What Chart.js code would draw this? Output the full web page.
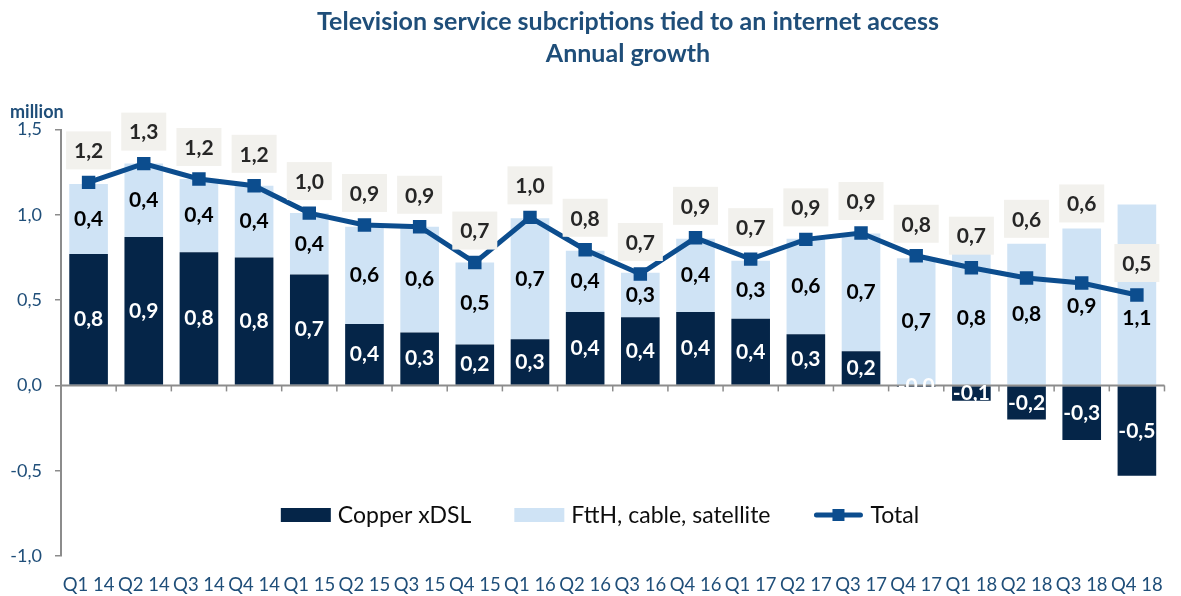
<!DOCTYPE html>
<html>
<head>
<meta charset="utf-8">
<script src="https://cdn.jsdelivr.net/npm/chart.js@4.4.1/dist/chart.umd.min.js"></script>
<style>
html,body{margin:0;padding:0;background:#fff;}
</style>
</head>
<body>
<canvas id="chartTv" width="1181" height="596"></canvas>
<script>
// =======================================
// DATA (million, annual growth)
// =======================================

let quarters=["Q1 14","Q2 14","Q3 14","Q4 14","Q1 15","Q2 15","Q3 15","Q4 15",
"Q1 16","Q2 16","Q3 16","Q4 16","Q1 17","Q2 17","Q3 17","Q4 17",
"Q1 18","Q2 18","Q3 18","Q4 18"];

let copper=[0.77,0.87,0.78,0.75,0.65,0.36,0.31,0.24,0.27,0.43,0.40,0.43,0.39,0.30,0.20,-0.01,-0.09,-0.20,-0.32,-0.53];

let ftth=[0.41,0.43,0.43,0.42,0.36,0.57,0.62,0.48,0.71,0.36,0.26,0.43,0.34,0.56,0.69,0.745,0.78,0.83,0.92,1.06];

let total=[1.19,1.30,1.21,1.17,1.01,0.94,0.93,0.72,0.985,0.795,0.653,0.865,0.74,0.856,0.893,0.76,0.69,0.63,0.60,0.53];

let yMin=-1, yMax=1.5, yStep=0.5;

let titleLines=["Television service subcriptions tied to an internet access","Annual growth"];


// =======================================
// STYLE
// =======================================

const DARK="#052548";
const LIGHT="#cfe3f5";
const LINE="#0c4d8e";
const BLUE_TEXT="#1f4e79";
const AXIS="#8c8c8c";
const FONT="Lato";

// total labels that sit above the bar instead of the marker
let liftedTotals=[17,18];

function fmt(v){
return v.toFixed(1).replace(".",",");
}


// =======================================
// LABELS, ZERO AXIS, LEGEND, TITLE
// =======================================

let extras={

id:"extras",

afterDatasetsDraw(chart){

let ctx=chart.ctx;
let xs=chart.scales.x, ys=chart.scales.y;
let area=chart.chartArea;
let y0=ys.getPixelForValue(0);

ctx.save();

// axis crossing at zero with category ticks
ctx.strokeStyle=AXIS;
ctx.lineWidth=2;
ctx.beginPath();
ctx.moveTo(area.left,y0);
ctx.lineTo(area.right,y0);
ctx.stroke();

let step=(xs.right-xs.left)/quarters.length;
ctx.lineWidth=1.5;
for(let i=1;i<=quarters.length;i++){
let px=xs.left+i*step;
ctx.beginPath();
ctx.moveTo(px,y0);
ctx.lineTo(px,y0+6);
ctx.stroke();
}

let mCopper=chart.getDatasetMeta(0);
let mFtth=chart.getDatasetMeta(1);
let mTotal=chart.getDatasetMeta(2);

ctx.font="bold 21px "+FONT;
ctx.textAlign="center";
ctx.textBaseline="middle";

mCopper.data.forEach((bar,i)=>{
ctx.fillStyle="#ffffff";
ctx.fillText(fmt(copper[i]),bar.x,(bar.y+bar.base)/2);
});

mFtth.data.forEach((bar,i)=>{
let cy=(bar.y+bar.base)/2;
let py=mTotal.data[i].y;
if(Math.abs(cy-py)<14) cy=py+23;
ctx.fillStyle="#000000";
ctx.fillText(fmt(ftth[i]),bar.x,cy);
});

mTotal.data.forEach((pt,i)=>{
let cy=pt.y-32;
if(liftedTotals.includes(i)) cy=mFtth.data[i].y-25;
ctx.fillStyle="#f2f1ed";
ctx.fillRect(pt.x-22.5,cy-19,45,38);
ctx.fillStyle="#262626";
ctx.fillText(fmt(total[i]),pt.x,cy+1);
});

ctx.restore();

},

afterDraw(chart){

let ctx=chart.ctx;
ctx.save();

// title
ctx.font="bold 25px "+FONT;
ctx.fillStyle=BLUE_TEXT;
ctx.textAlign="center";
ctx.textBaseline="middle";
titleLines.forEach((t,i)=>ctx.fillText(t,628,22+i*32));

// unit label
ctx.font="bold 18px "+FONT;
ctx.textAlign="left";
ctx.fillText("million",10,112);

// legend inside the plot
ctx.font="23px "+FONT;
let items=chart.data.datasets;
let boxW=50, gap=7, itemGap=43;
let widths=items.map(d=>boxW+gap+ctx.measureText(d.label).width);
let full=widths.reduce((a,b)=>a+b,0)+itemGap*(items.length-1);
let lx=600-full/2;
let ly=515;

items.forEach((d,i)=>{
if(d.type==="line"){
ctx.strokeStyle=d.borderColor;
ctx.lineWidth=5;
ctx.lineCap="round";
ctx.beginPath();
ctx.moveTo(lx+3,ly);
ctx.lineTo(lx+boxW-3,ly);
ctx.stroke();
ctx.fillStyle=d.borderColor;
ctx.fillRect(lx+boxW/2-6,ly-6,12,12);
}else{
ctx.fillStyle=d.backgroundColor;
ctx.fillRect(lx,ly-7,boxW,14);
}
ctx.fillStyle="#0d0d0d";
ctx.fillText(d.label,lx+boxW+gap,ly+1);
lx+=widths[i]+itemGap;
});

ctx.restore();

}

};


// =======================================
// CHART
// =======================================

new Chart(

document.getElementById("chartTv"),

{

data:{

labels:quarters,

datasets:[

{
type:"bar",
label:"Copper xDSL",
data:copper,
backgroundColor:DARK,
stack:"bars",
order:2
},

{
type:"bar",
label:"FttH, cable, satellite",
data:ftth,
backgroundColor:LIGHT,
stack:"bars",
order:2
},

{
type:"line",
label:"Total",
data:total,
borderColor:LINE,
backgroundColor:LINE,
borderWidth:5,
pointStyle:"rect",
pointRadius:9.5,
pointBorderWidth:0,
tension:0,
stack:"line",
order:1
}

]

},

options:{

responsive:false,
devicePixelRatio:1,
animation:false,

datasets:{
bar:{categoryPercentage:1,barPercentage:0.7}
},

layout:{padding:{left:0,right:7,top:129.5,bottom:0}},

plugins:{
legend:{display:false},
tooltip:{enabled:false}
},

scales:{

x:{
stacked:true,
grid:{display:false,drawTicks:false},
border:{display:false},
ticks:{color:BLUE_TEXT,font:{family:FONT,size:18.5},padding:18,maxRotation:0,autoSkip:false},
afterFit(s){s.height=40;}
},

y:{
stacked:true,
min:yMin,
max:yMax,
ticks:{stepSize:yStep,color:BLUE_TEXT,font:{family:FONT,size:18},padding:13,callback:v=>fmt(v)},
grid:{drawOnChartArea:false,drawTicks:true,tickLength:6,color:AXIS,lineWidth:1.5},
border:{display:true,color:AXIS,width:2},
afterFit(s){s.width=61;}
}

}

},

plugins:[extras]

}

);
</script>
</body>
</html>
